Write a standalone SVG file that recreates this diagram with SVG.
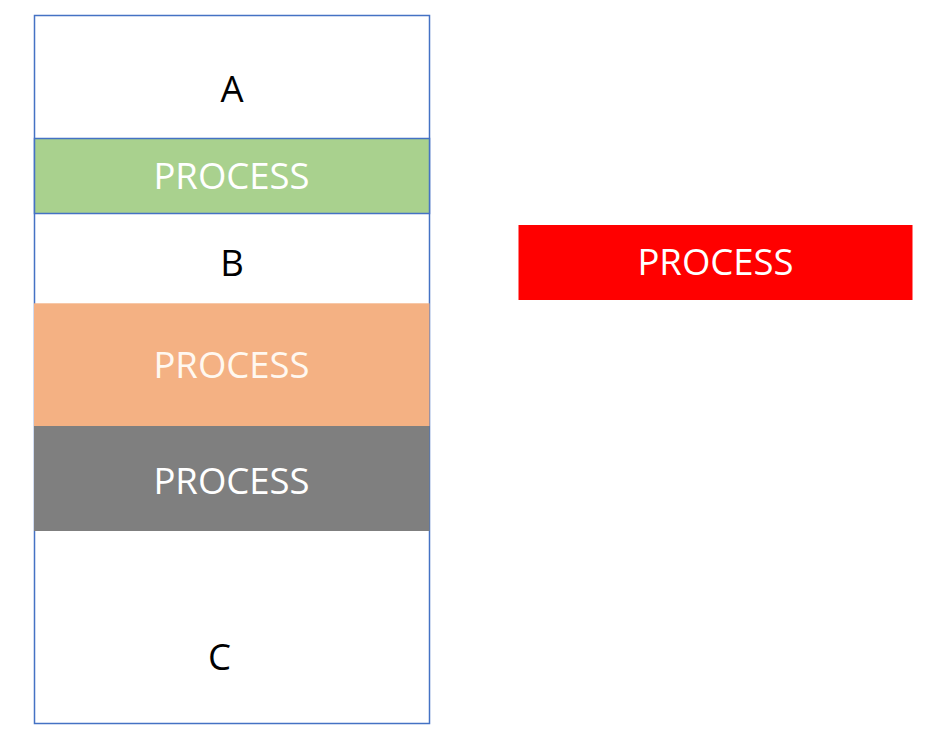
<svg xmlns="http://www.w3.org/2000/svg" width="952" height="750" viewBox="0 0 952 750">
<style>
.lbl{font-family:"Open Sans","Noto Sans","Liberation Sans",sans-serif;font-size:36.5px;text-anchor:middle}
.dark{fill:#000000}
.light{fill:#FFFFFF}
.edge{stroke:#4472C4;stroke-width:1.5}
</style>
<rect width="952" height="750" fill="#FFFFFF"/>
<g id="outer">
<rect x="34.5" y="15.5" width="395" height="708" fill="#FFFFFF" class="edge"/>
</g>
<g id="A">
<text class="lbl dark" x="232" y="102">A</text>
</g>
<g id="process-green">
<rect x="34.5" y="138.5" width="395" height="75" fill="#A9D18E" class="edge"/>
<text class="lbl light" x="231.5" y="189">PROCESS</text>
</g>
<g id="B">
<text class="lbl dark" x="232" y="276">B</text>
</g>
<g id="process-orange">
<rect x="34" y="303.3" width="395.5" height="122.7" fill="#F4B183"/>
<text class="lbl" fill="#FFF8F0" x="231.5" y="377.5">PROCESS</text>
</g>
<g id="process-gray">
<rect x="34" y="426" width="395.5" height="105" fill="#7F7F7F"/>
<text class="lbl light" x="231.5" y="493.5">PROCESS</text>
</g>
<g id="C">
<text class="lbl dark" x="219.5" y="670">C</text>
</g>
<g id="process-red">
<rect x="518.5" y="225" width="394" height="75" fill="#FF0000"/>
<text class="lbl light" x="715.5" y="275">PROCESS</text>
</g>
<g id="connectors"></g>
</svg>
